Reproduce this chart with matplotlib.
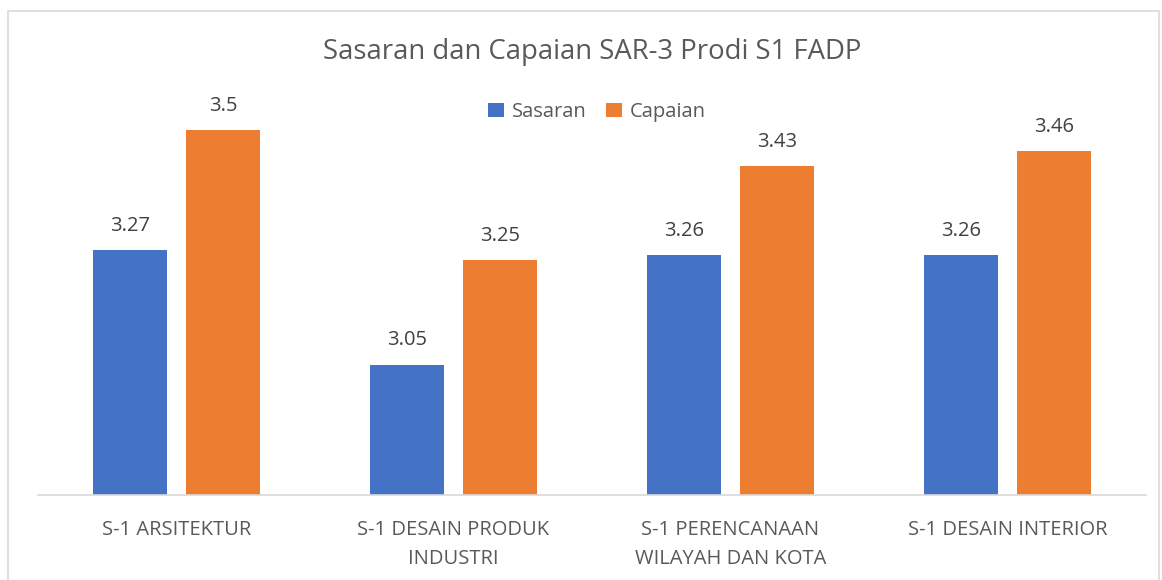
import numpy as np
import matplotlib.pyplot as plt
from matplotlib.patches import Rectangle

categories = ['S-1 ARSITEKTUR', 'S-1 DESAIN PRODUK\nINDUSTRI', 'S-1 PERENCANAAN\nWILAYAH DAN KOTA', 'S-1 DESAIN INTERIOR']
sasaran = [3.27, 3.05, 3.26, 3.26]
capaian = [3.5, 3.25, 3.43, 3.46]
labels_sasaran = ['3.27', '3.05', '3.26', '3.26']
labels_capaian = ['3.5', '3.25', '3.43', '3.46']

plt.rcParams['font.family'] = ['Open Sans', 'DejaVu Sans']
grey = '#595959'
blue = '#4472C4'
orange = '#ED7D31'

fig = plt.figure(figsize=(11.62, 5.8), dpi=100)
# chart border
fig.patches.append(Rectangle((8/1162, -0.01), 1151/1162, 1 - 11/580 + 0.01, transform=fig.transFigure,
                             fill=False, edgecolor='#d9d9d9', linewidth=1.2))

ax = fig.add_axes([38/1162, 1 - 495/580, (1146-38)/1162, (495-77.6)/580])
x = np.arange(len(categories))
w = 0.267
off = 0.168
b1 = ax.bar(x - off, np.array(sasaran) - 2.8, w, bottom=2.8, color=blue, label='Sasaran')
b2 = ax.bar(x + off, np.array(capaian) - 2.8, w, bottom=2.8, color=orange, label='Capaian')

for xi, v, t in zip(x, sasaran, labels_sasaran):
    ax.text(xi - off, v + 0.027, t, ha='center', va='bottom', fontsize=14.5, color='#404040')
for xi, v, t in zip(x, capaian, labels_capaian):
    ax.text(xi + off, v + 0.027, t, ha='center', va='bottom', fontsize=14.5, color='#404040')

ax.set_xlim(-0.5, 3.5)
ax.set_ylim(2.8, 3.6)
ax.set_yticks([])
ax.set_xticks(x)
ax.set_xticklabels(categories, fontsize=14.5, color=grey, linespacing=1.6)
ax.tick_params(axis='x', length=0, pad=18)
for s in ['top', 'right', 'left']:
    ax.spines[s].set_visible(False)
ax.spines['bottom'].set_color('#d9d9d9')
ax.spines['bottom'].set_linewidth(1.2)

fig.text(592/1162, 1 - 52/580, 'Sasaran dan Capaian SAR-3 Prodi S1 FADP', ha='center', va='center',
         fontsize=19.8, color=grey)
leg = fig.legend(handles=[b1, b2], loc='center', bbox_to_anchor=(597/1162, 1 - 112/580), ncol=2,
                 frameon=False, fontsize=14.5, handlelength=0.75, handleheight=0.75,
                 handletextpad=0.4, columnspacing=1.0)
for t in leg.get_texts():
    t.set_color(grey)

fig.savefig('out.png', dpi=100)
